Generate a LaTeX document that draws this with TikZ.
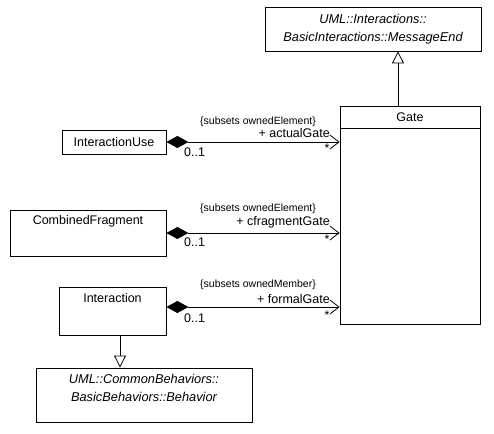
\documentclass[tikz,border=0pt]{standalone}
\usepackage{fontspec}
\setmainfont{Liberation Sans}
\usetikzlibrary{arrows.meta}
\begin{document}
\begin{tikzpicture}[x=1pt,y=-1pt,
  cls/.style={draw, line width=0.8pt, inner sep=0pt, fill=white},
  nm/.style={inner sep=0pt, font=\fontsize{12.5}{17}\selectfont, align=center},
  inm/.style={nm, font=\fontsize{12.8}{18}\selectfont\itshape},
  small/.style={inner sep=0pt, font=\fontsize{10.5}{12}\selectfont},
  role/.style={inner sep=0pt, font=\fontsize{12.5}{14}\selectfont},
  comp/.style={draw, line width=0.8pt, {Diamond[length=22pt,width=12pt]}-{Straight Barb[length=9pt,width=14pt,line width=0.8pt]}},
  gen/.style={draw, line width=0.8pt, -{Triangle[open,length=12pt,width=12pt,fill=white,line width=0.8pt]}}]
\useasboundingbox (0,0) rectangle (494,433);
% classes
\node[cls, minimum width=216, minimum height=44] (me) at (373,29) {};
\node[inm] (metext) at (373,29) {UML::Interactions::\\BasicInteractions::MessageEnd};
\node[cls, minimum width=140, minimum height=218] (gate) at (410,215) {};
\node[nm] (gatename) at (410,117) {Gate};
\draw[line width=0.8pt] (gate.west |- 0,128) -- (gate.east |- 0,128);
\node[cls, minimum width=104, minimum height=24] (iu) at (114,142) {};
\node[nm] (iutext) at (114,142) {InteractionUse};
\node[cls, minimum width=156, minimum height=46] (cf) at (88,233) {};
\node[nm] (cftext) at (88,221) {CombinedFragment};
\node[cls, minimum width=107, minimum height=48] (ia) at (112.5,311) {};
\node[nm] (iatext) at (112.5,298) {Interaction};
\node[cls, minimum width=216, minimum height=54] (beh) at (144,395) {};
\node[inm] (behtext) at (144,388) {UML::CommonBehaviors::\\BasicBehaviors::Behavior};
% generalizations
\draw[gen] ([xshift=-12pt]gate.north) -- ([xshift=-12pt]gate.north |- me.south);
\draw[gen] ([xshift=7.5pt]ia.south) -- ([xshift=7.5pt]ia.south |- beh.north);
% compositions
\draw[comp] (iu.east) -- (iu.east -| gate.west);
\draw[comp] (cf.east) -- (cf.east -| gate.west);
\draw[comp] ([yshift=4pt]ia.east) -- ([yshift=4pt]ia.east -| gate.west);
% labels
\node[small, anchor=east] (c1) at (316,122) {\{subsets ownedElement\}};
\node[role, anchor=east] (r1) at (330,133) {+ actualGate};
\node[role] (s1) at (327,148) {*};
\node[role, anchor=west] (m1) at (184,152) {0..1};
\node[small, anchor=east] (c2) at (316,209) {\{subsets ownedElement\}};
\node[role, anchor=east] (r2) at (330,222) {+ cfragmentGate};
\node[role] (s2) at (327,239) {*};
\node[role, anchor=west] (m2) at (184,242) {0..1};
\node[small, anchor=east] (c3) at (316,285) {\{subsets ownedMember\}};
\node[role, anchor=east] (r3) at (330,299) {+ formalGate};
\node[role] (s3) at (327,315) {*};
\node[role, anchor=west] (m3) at (184,318) {0..1};
\end{tikzpicture}
\end{document}
